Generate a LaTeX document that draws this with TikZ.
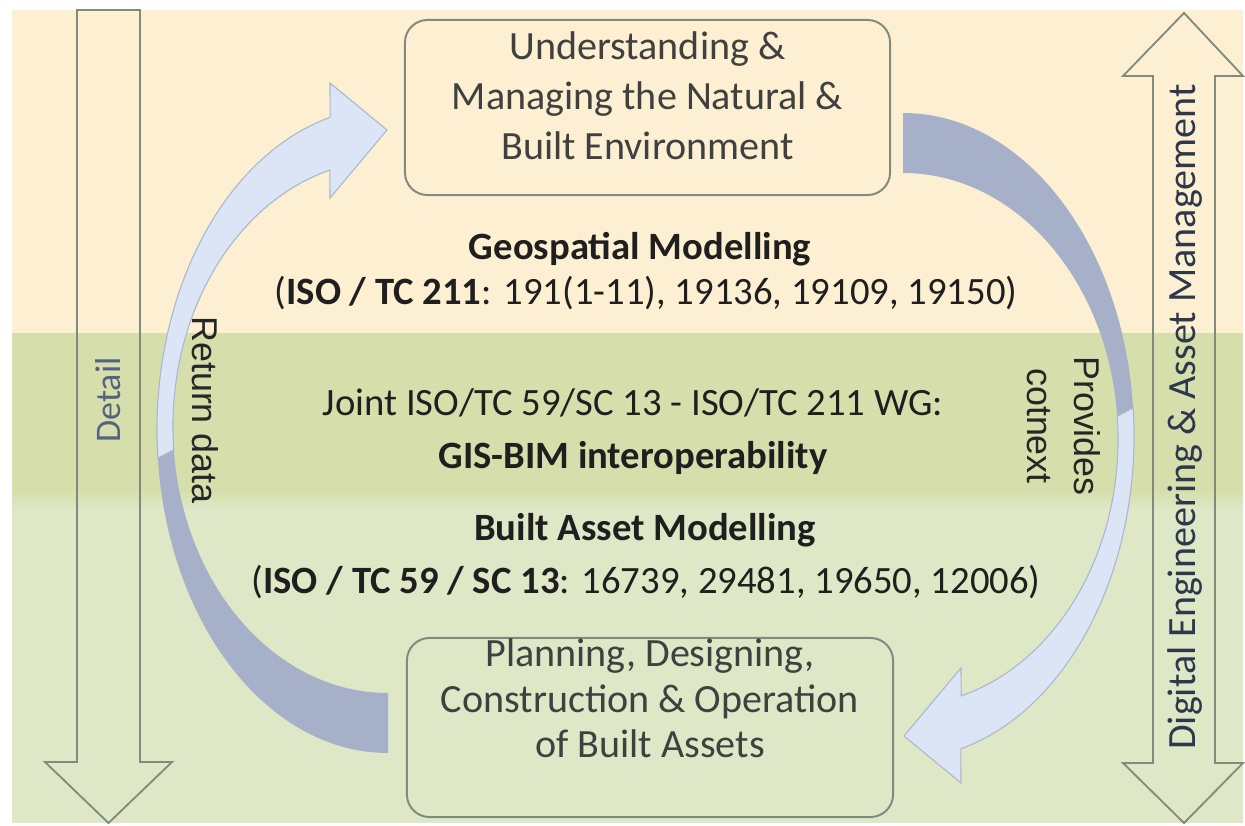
\documentclass[tikz,border=0pt]{standalone}
\usepackage{fontspec}
\setmainfont{Carlito}
\newfontfamily\arialfont{Liberation Sans}
\usetikzlibrary{positioning}

\definecolor{geobg}{RGB}{253,240,210}
\definecolor{jointbg}{RGB}{214,223,172}
\definecolor{bimbg}{RGB}{222,232,198}
\definecolor{arrowdark}{RGB}{166,176,201}
\definecolor{arrowlight}{RGB}{220,229,245}
\definecolor{arrowedge}{RGB}{172,184,208}
\definecolor{boxline}{RGB}{128,138,126}
\definecolor{boxtext}{RGB}{64,64,64}
\definecolor{detailtext}{RGB}{84,100,128}
\definecolor{sidetext}{RGB}{46,56,76}

% curved block arrow, tail at the bottom, head at the top
\newcommand{\bandarrow}{%
  \fill[arrowdark] (388,72) arc[start angle=270, end angle=185, x radius=231, y radius=323]
    -- (173.82,375.18) arc[start angle=185, end angle=270, x radius=215, y radius=266.4] -- cycle;
  \filldraw[fill=arrowlight, draw=arrowedge, line width=0.8pt] (157.88,366.85)
    arc[start angle=185, end angle=104.5, x radius=231, y radius=323]
    -- (330,742) -- (387,695) -- (330,627) -- (329.8,654.9)
    arc[start angle=105.7, end angle=185, x radius=215, y radius=266.4] -- cycle;
}

\begin{document}
\begin{tikzpicture}[x=0.025cm, y=0.025cm,
  stage/.style={draw=boxline, line width=1.4pt, rounded corners=16pt, inner sep=0pt},
  stagetext/.style={align=center, text=boxtext, inner sep=0pt},
  modeltext/.style={anchor=base, inner sep=0pt, text=black!88, font=\fontsize{27.5}{33}\selectfont},
  flowtext/.style={inner sep=0pt, text=black!85, rotate=-90, align=center, font=\arialfont\fontsize{25.5}{33.5}\selectfont},
  sidearrow/.style={draw=boxline, line width=1.3pt, line join=miter}]

  \useasboundingbox (0,0) rectangle (1245,825);
  \fill[white] (0,0) rectangle (1245,825);

  %--- bands ---
  \fill[geobg] (12,492) rectangle (1243,815);
  \fill[jointbg] (12,325) rectangle (1243,492);
  \fill[bimbg] (12,2) rectangle (1243,318);
  \shade[top color=jointbg, bottom color=bimbg] (12,316) rectangle (1243,334);

  %--- side arrows ---
  \draw[sidearrow] (77,815) -- (140,815) -- (140,63) -- (172,63) -- (108.5,2)
    -- (45,63) -- (77,63) -- cycle;
  \draw[sidearrow] (1153,749) -- (1123,749) -- (1184,812) -- (1243,749) -- (1215,749)
    -- (1215,62) -- (1243,62) -- (1184,2) -- (1123,62) -- (1153,62) -- cycle;

  %--- boxes ---
  \node[stage, fill=geobg, minimum width=12.125cm, minimum height=4.375cm] (envbox) at (647.5,717.5) {};
  \node[stage, fill=bimbg, minimum width=12.15cm, minimum height=4.475cm] (assetbox) at (650,97.5) {};
  \node[stagetext, font=\fontsize{28.5}{35.6}\selectfont] (envtext) at ([yshift=0.29cm]envbox.center)
    {Understanding \&\\Managing the Natural \&\\Built Environment};
  \node[stagetext, font=\fontsize{28.5}{32.4}\selectfont] (assettext) at ([yshift=0.725cm]assetbox.center)
    {Planning, Designing,\\Construction \& Operation\\of Built Assets};

  %--- curved arrows ---
  \bandarrow
  \begin{scope}[rotate around={180:(645.5,392)}]
    \bandarrow
  \end{scope}

  %--- texts ---
  \node[modeltext] (geotitle) at (640,565) {\textbf{Geospatial Modelling}};
  \node[modeltext] (geostd) at (646,520) {(\textbf{ISO / TC 211}: 191(1-11), 19136, 19109, 19150)};
  \node[modeltext] (jointwg) at (633,410) {Joint ISO/TC 59/SC 13 - ISO/TC 211 WG:};
  \node[modeltext] (jointgis) at (633,357) {\textbf{GIS-BIM interoperability}};
  \node[modeltext] (bimtitle) at (645,285) {\textbf{Built Asset Modelling}};
  \node[modeltext] (bimstd) at (646,232) {(\textbf{ISO / TC 59 / SC 13}: 16739, 29481, 19650, 12006)};

  \node[flowtext] (returnlbl) at (205,415) {Return data};
  \node[flowtext] (contextlbl) at (1064,399) {Provides\\cotnext};
  \node[rotate=90, inner sep=0pt, text=detailtext, font=\fontsize{25.6}{30}\selectfont] (detaillbl) at (108,425) {Detail};
  \node[rotate=90, inner sep=0pt, text=sidetext, font=\fontsize{28.5}{34}\selectfont] (digitallbl) at (1185,408)
    {Digital Engineering \& Asset Management};
\end{tikzpicture}
\end{document}
